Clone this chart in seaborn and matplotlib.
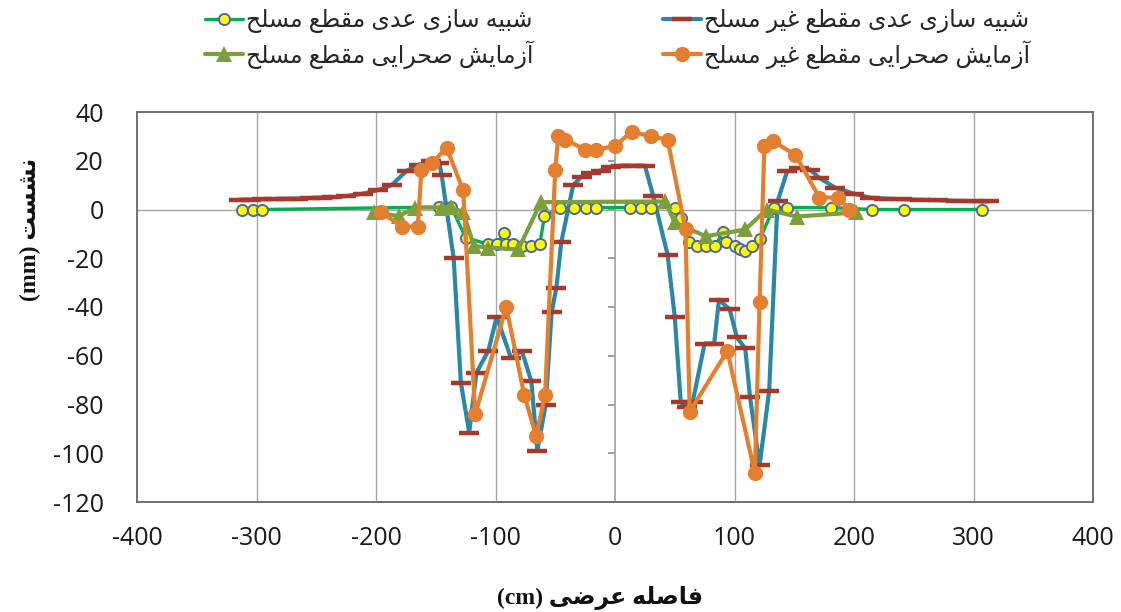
import matplotlib
matplotlib.use("Agg")
import matplotlib.pyplot as plt
import seaborn as sns

# Persian letters -> presentation forms (isolated, final, initial, medial)
FORMS = {
    'ا': ('\uFE8D', '\uFE8E', None, None),
    'آ': ('\uFE81', '\uFE82', None, None),
    'ب': ('\uFE8F', '\uFE90', '\uFE91', '\uFE92'),
    'ت': ('\uFE95', '\uFE96', '\uFE97', '\uFE98'),
    'ح': ('\uFEA1', '\uFEA2', '\uFEA3', '\uFEA4'),
    'د': ('\uFEA9', '\uFEAA', None, None),
    'ر': ('\uFEAD', '\uFEAE', None, None),
    'ز': ('\uFEAF', '\uFEB0', None, None),
    'س': ('\uFEB1', '\uFEB2', '\uFEB3', '\uFEB4'),
    'ش': ('\uFEB5', '\uFEB6', '\uFEB7', '\uFEB8'),
    'ص': ('\uFEB9', '\uFEBA', '\uFEBB', '\uFEBC'),
    'ض': ('\uFEBD', '\uFEBE', '\uFEBF', '\uFEC0'),
    'ط': ('\uFEC1', '\uFEC2', '\uFEC3', '\uFEC4'),
    'ع': ('\uFEC9', '\uFECA', '\uFECB', '\uFECC'),
    'غ': ('\uFECD', '\uFECE', '\uFECF', '\uFED0'),
    'ف': ('\uFED1', '\uFED2', '\uFED3', '\uFED4'),
    'ق': ('\uFED5', '\uFED6', '\uFED7', '\uFED8'),
    'ل': ('\uFEDD', '\uFEDE', '\uFEDF', '\uFEE0'),
    'م': ('\uFEE1', '\uFEE2', '\uFEE3', '\uFEE4'),
    'ن': ('\uFEE5', '\uFEE6', '\uFEE7', '\uFEE8'),
    'ه': ('\uFEE9', '\uFEEA', '\uFEEB', '\uFEEC'),
    'ی': ('\uFBFC', '\uFBFD', '\uFBFE', '\uFBFF'),
}


def rtl(text):
    # shape the letters and put them in visual (left-to-right) order
    out = []
    for i, ch in enumerate(text):
        if ch not in FORMS:
            out.append(ch)
            continue
        prev = text[i - 1] if i > 0 else ''
        nxt = text[i + 1] if i + 1 < len(text) else ''
        join_prev = prev in FORMS and FORMS[prev][2] is not None
        join_next = nxt in FORMS and FORMS[ch][2] is not None
        iso, fin, ini, med = FORMS[ch]
        if join_prev and join_next:
            out.append(med)
        elif join_prev:
            out.append(fin)
        elif join_next:
            out.append(ini)
        else:
            out.append(iso)
    return ''.join(reversed(out))


# numerical, unreinforced section
num_unreinf_x = [-315, -305, -295, -285, -275, -265, -255, -245, -237, -225, -211, -198,
                 -187, -174, -164, -154, -147, -145, -135, -129, -122, -116, -106, -99,
                 -87, -78, -70, -65, -58, -53, -49, -45, -35, -28, -20, -12, -3, 5, 15,
                 25, 32, 44, 50, 55, 60, 65, 75, 83, 87, 96, 102, 109, 113, 121, 129,
                 136, 144, 154, 163, 171, 184, 200, 213, 225, 240, 255, 270, 285, 300, 313]
num_unreinf_y = [4.0, 4.1, 4.2, 4.3, 4.4, 4.5, 4.7, 4.9, 5.0, 5.5, 6.5, 8,
                 10, 16, 18.4, 19.7, 19, 14, -20, -71, -91.5, -67, -58, -44,
                 -61, -58, -70.5, -99, -80, -42, -32, -13.5, 10, 13.5, 15, 16, 17.6, 18, 18,
                 18, 5.5, -18.5, -44, -79, -81, -79, -55, -55, -37, -41, -52.5, -57, -77, -105, -74.5,
                 3.3, 15.6, 17, 16.4, 13, 9, 6.5, 4.9, 4.5, 4.2, 4.0, 3.8, 3.6, 3.4, 3.3]

# field test, unreinforced section
field_unreinf_x = [-196, -178, -165, -162, -153, -141, -127, -117, -91, -76, -66, -58.5,
                   -50, -47.5, -42, -25, -16, 0, 14, 30, 44, 59, 62.5, 94, 117, 121,
                   125, 132, 151, 171, 187, 196]
field_unreinf_y = [-1.2, -7, -7, 16.4, 19, 25.4, 7.8, -84, -40, -76, -93, -76,
                   16.4, 30, 28.7, 24.6, 24.6, 26, 32, 30, 28.7, -8.2, -83, -58, -108, -38,
                   26, 28, 22.5, 4.9, 4.9, 0]

# numerical, reinforced section
num_reinf_x = [-312, -303, -295, -147, -137, -125, -106, -99, -93, -91, -85, -78, -70, -63,
               -59, -46, -34, -24, -16, 12.5, 22, 30, 50, 55, 62, 69, 76, 84, 90, 93,
               100, 105, 109, 115, 121, 133, 144, 181, 215, 242, 307]
num_reinf_y = [0, 0, 0, 1, 1, -11.5, -14.3, -14.3, -9.5, -14.3, -14.3, -15, -14.8, -14.3,
               -2.7, 0.8, 0.8, 0.8, 0.8, 0.8, 0.8, 0.8, 0.8, -3.3, -13.5, -15, -15, -15, -9.4, -13.5,
               -15, -16.4, -17, -15, -12.3, 0.8, 0.8, 0.8, 0, 0, 0]

# field test, reinforced section
field_reinf_x = [-202, -181, -167, -145, -137, -127, -118, -106, -81, -62, 42, 50, 76,
                 109, 127, 152, 202]
field_reinf_y = [-1.2, -2.7, 0.8, 0.8, 1, -1.2, -15, -15.6, -16.4, 3, 3.3, -5.3, -11,
                 -8.2, 0, -2.9, -1.2]

labels = [rtl('شبیه سازی عدی مقطع مسلح'),
          rtl('آزمایش صحرایی مقطع مسلح'),
          rtl('شبیه سازی عدی مقطع غیر مسلح'),
          rtl('آزمایش صحرایی مقطع غیر مسلح')]
xlabel = '(cm) ' + rtl('فاصله عرضی')
ylabel = '(mm) ' + rtl('نشست')

xticks = list(range(-400, 401, 100))
yticks = list(range(-120, 41, 20))

sns.set_theme(style="white")
plt.rcParams['font.family'] = ['Open Sans', 'DejaVu Sans']
plt.rcParams['axes.unicode_minus'] = False

fig = plt.figure(figsize=(11.21, 6.12), dpi=100)
rect = [137 / 1121, 1 - 502 / 612, 956 / 1121, 390 / 612]
grid_c = '#a6a6a6'

# underlay: the vertical axis crossing at x = 0 with its tick marks
ax0 = fig.add_axes(rect)
ax0.set_xlim(-400, 400)
ax0.set_ylim(-120, 40)
ax0.set_xticks([])
for name, s in ax0.spines.items():
    s.set_visible(name == 'left')
ax0.spines['left'].set_position(('data', 0))
ax0.spines['left'].set_color(grid_c)
ax0.spines['left'].set_linewidth(1.3)
ax0.yaxis.set_ticks_position('left')
ax0.set_yticks(yticks)
ax0.tick_params(axis='y', which='major', left=True, direction='out', length=5, width=1.2,
                color='#8c8c8c', labelleft=False)

ax = fig.add_axes(rect)
ax.set_facecolor('none')

for gx in xticks[1:-1]:
    if gx != 0:
        ax.axvline(gx, color=grid_c, lw=1.0, zorder=0)
ax.axhline(0, color=grid_c, lw=1.0, zorder=0)

sns.lineplot(x=num_unreinf_x, y=num_unreinf_y, sort=False, estimator=None, ax=ax,
             color='#2b87a6', lw=3, marker='_', markersize=15, markeredgewidth=3.2,
             markeredgecolor='#a8372c', label=labels[2], zorder=3)
sns.lineplot(x=num_reinf_x, y=num_reinf_y, sort=False, estimator=None, ax=ax,
             color='#00b050', lw=2.4, marker='o', markersize=8, markeredgewidth=1.4,
             markerfacecolor='#ffff00', markeredgecolor='#4a66b0', label=labels[0], zorder=4)
sns.lineplot(x=field_reinf_x, y=field_reinf_y, sort=False, estimator=None, ax=ax,
             color='#7b9f3c', lw=3, marker='^', markersize=11, markeredgewidth=0,
             markerfacecolor='#7b9f3c', label=labels[1], zorder=5)
sns.lineplot(x=field_unreinf_x, y=field_unreinf_y, sort=False, estimator=None, ax=ax,
             color='#e47f2f', lw=3, marker='o', markersize=11, markeredgewidth=0,
             markerfacecolor='#e47f2f', label=labels[3], zorder=6)

ax.set_xlim(-400, 400)
ax.set_ylim(-120, 40)
ax.set_xticks(xticks)
ax.set_yticks(yticks)
ax.tick_params(axis='both', length=0, labelsize=18, labelcolor='#1a1a1a')
ax.tick_params(axis='x', pad=17)
ax.tick_params(axis='y', pad=24)
for s in ax.spines.values():
    s.set_color('#707070')
    s.set_linewidth(1.4)

bold = dict(family=['Liberation Serif', 'DejaVu Sans'], fontweight='bold', fontsize=17, color='#111111')
ax.set_xlabel(xlabel, **bold)
ax.set_ylabel(ylabel, **bold)
ax.xaxis.set_label_coords(0.484, -0.215)
ax.yaxis.set_label_coords(-0.10, 0.70)

handles, labs = ax.get_legend_handles_labels()
ax.get_legend().remove()
hmap = dict(zip(labs, handles))
leg_kw = dict(frameon=False, fontsize=17, handlelength=1.6, handletextpad=0.15,
              labelspacing=0.3, borderpad=0, borderaxespad=0, loc='upper left')
fig.legend([hmap[labels[0]], hmap[labels[1]]], labels[:2],
           bbox_to_anchor=(205 / 1121, 1 - 9 / 612), **leg_kw)
fig.legend([hmap[labels[2]], hmap[labels[3]]], labels[2:],
           bbox_to_anchor=(663 / 1121, 1 - 9 / 612), **leg_kw)

fig.savefig('out.png', dpi=100)
